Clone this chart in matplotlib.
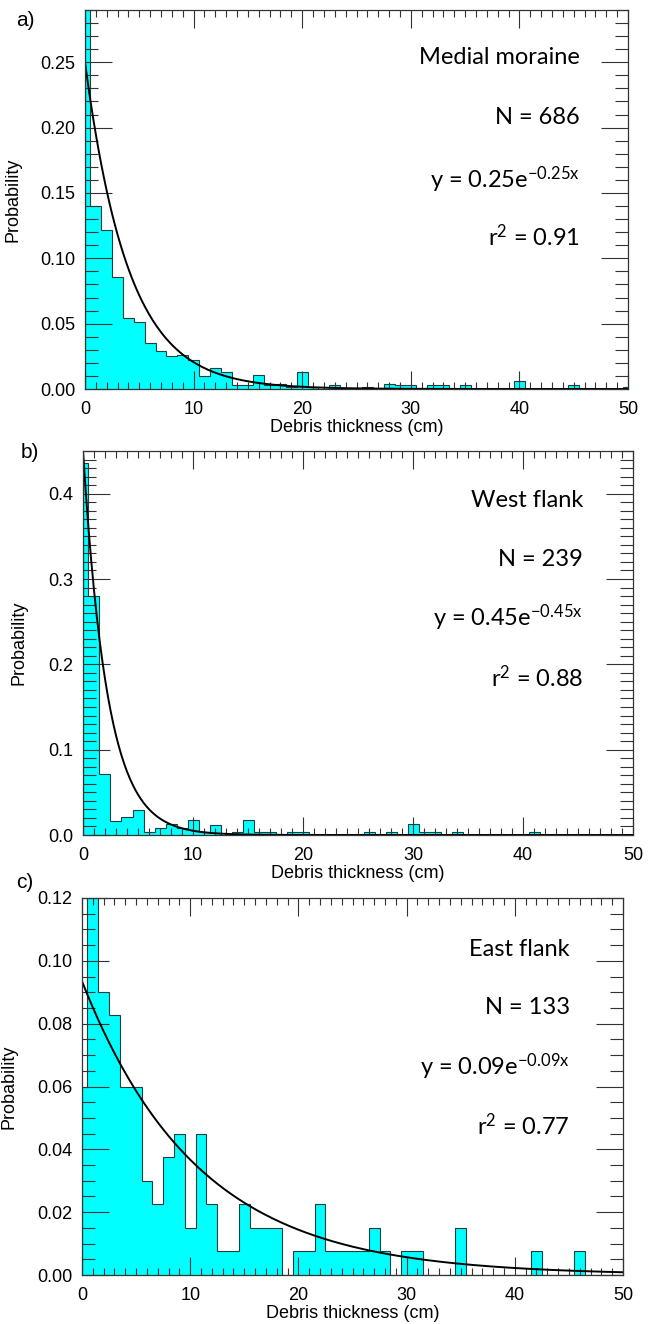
import numpy as np
import matplotlib
matplotlib.use("Agg")
import matplotlib.pyplot as plt
from matplotlib.ticker import MultipleLocator, FormatStrFormatter

plt.rcParams['font.family'] = ['Liberation Sans', 'DejaVu Sans']
plt.rcParams['mathtext.fontset'] = 'custom'
plt.rcParams['mathtext.rm'] = 'Lato'
plt.rcParams['mathtext.it'] = 'Lato:italic'

# bin centres 0..50 cm (1 cm bins, first and last are half bins)
centres = np.arange(0, 51)
edges = np.concatenate(([0.0], centres[:-1] + 0.5, [50.0]))

# probability per bin
medial = [0.31, 0.140, 0.122, 0.086, 0.054, 0.051, 0.035, 0.029, 0.025, 0.026,
          0.022, 0.010, 0.016, 0.013, 0.003, 0.003, 0.011, 0.003, 0.004, 0.0015,
          0.013, 0.0015, 0.0, 0.003, 0.0, 0.0, 0.0015, 0.0, 0.004, 0.003,
          0.003, 0.0, 0.003, 0.003, 0.0, 0.003, 0.0, 0.0, 0.0, 0.0,
          0.006, 0.0, 0.0, 0.0, 0.0, 0.003, 0.0, 0.0, 0.0, 0.0,
          0.0015]
west = [0.436, 0.280, 0.071, 0.016, 0.021, 0.029, 0.004, 0.008, 0.0125, 0.008,
        0.017, 0.004, 0.012, 0.0, 0.004, 0.017, 0.004, 0.004, 0.0, 0.004,
        0.004, 0.0, 0.0, 0.0, 0.0, 0.0, 0.004, 0.0, 0.004, 0.0,
        0.0125, 0.004, 0.004, 0.0, 0.004, 0.0, 0.0, 0.0, 0.0, 0.0,
        0.0, 0.004, 0.0, 0.0, 0.0, 0.0, 0.0, 0.0, 0.0, 0.0,
        0.0]
east = [0.060, 0.135, 0.090, 0.0827, 0.060, 0.060, 0.030, 0.0226, 0.0376, 0.045,
        0.015, 0.045, 0.0226, 0.0075, 0.0075, 0.0226, 0.015, 0.015, 0.015, 0.0,
        0.0075, 0.0075, 0.0226, 0.0075, 0.0075, 0.0075, 0.0075, 0.015, 0.0075, 0.0,
        0.0075, 0.0075, 0.0, 0.0, 0.0, 0.015, 0.0, 0.0, 0.0, 0.0,
        0.0, 0.0, 0.0075, 0.0, 0.0, 0.0, 0.0075, 0.0, 0.0, 0.0,
        0.0]

names = ['Medial moraine', 'West flank', 'East flank']
counts = [686, 239, 133]
amp = [0.25, 0.45, 0.0935]
rate = [0.25, 0.45, 0.0935]
rsq = [0.91, 0.88, 0.77]
letters = ['a)', 'b)', 'c)']
ymax = [0.29, 0.45, 0.12]
ymajor = [0.05, 0.1, 0.02]
yminor = [0.01, 0.01, 0.005]
yfmt = ['%.2f', '%.1f', '%.2f']

W, H = 652, 1324
# axes boxes in pixels: left, top, right, bottom
boxes = [(85, 10, 628, 389), (83, 451, 633, 835), (82, 898, 623, 1275)]
text_right = [580, 583, 570]
text_y = [(58, 118, 180, 237), (500, 560, 618, 678), (949, 1008, 1067, 1126)]
letter_xy = [(25, 20), (30, 453), (25, 882)]
ylabel_x = [22, 28, 18]

fig = plt.figure(figsize=(W / 100, H / 100), dpi=100)
data = [medial, west, east]
xs = np.linspace(0, 50, 400)

for i in range(3):
    l, t, r, b = boxes[i]
    ax = fig.add_axes([l / W, 1 - b / H, (r - l) / W, (b - t) / H])
    ax.stairs(data[i], edges, fill=True, facecolor='#00ffff', edgecolor='none')
    ax.stairs(data[i], edges, color='#1f3f3f', lw=0.8)
    ax.plot(xs, amp[i] * np.exp(-rate[i] * xs), color='black', lw=1.4)
    ax.set_xlim(0, 50)
    ax.set_ylim(0, ymax[i])
    ax.xaxis.set_major_locator(MultipleLocator(10))
    ax.xaxis.set_minor_locator(MultipleLocator(1))
    ax.yaxis.set_major_locator(MultipleLocator(ymajor[i]))
    ax.yaxis.set_minor_locator(MultipleLocator(yminor[i]))
    ax.yaxis.set_major_formatter(FormatStrFormatter(yfmt[i]))
    ax.tick_params(which='both', direction='in', top=True, right=True,
                   color='#333333', width=0.8, labelsize=13)
    ax.tick_params(axis='x', which='major', length=13, pad=9)
    ax.tick_params(axis='x', which='minor', length=5)
    ax.tick_params(axis='y', which='major', length=19.5, pad=7)
    ax.tick_params(axis='y', which='minor', length=9.5)
    for s in ax.spines.values():
        s.set_linewidth(0.9)
        s.set_color('#333333')
    ax.set_xlabel('Debris thickness (cm)', fontsize=13, labelpad=0)
    ax.set_ylabel('Probability', fontsize=13)
    ax.yaxis.set_label_coords((ylabel_x[i] - l) / (r - l), 0.5)

    lines = [names[i], 'N = %d' % counts[i],
             'y = %.2fe$^{\\mathrm{-%.2fx}}$' % (amp[i], rate[i]),
             'r$^{\\mathrm{2}}$ = %.2f' % rsq[i]]
    for txt, ty in zip(lines, text_y[i]):
        fig.text(text_right[i] / W, 1 - ty / H, txt, ha='right', va='center',
                 fontsize=17, family='Lato')
    lx, ly = letter_xy[i]
    fig.text(lx / W, 1 - ly / H, letters[i], ha='center', va='center', fontsize=15)

fig.savefig('out.png', dpi=100)
